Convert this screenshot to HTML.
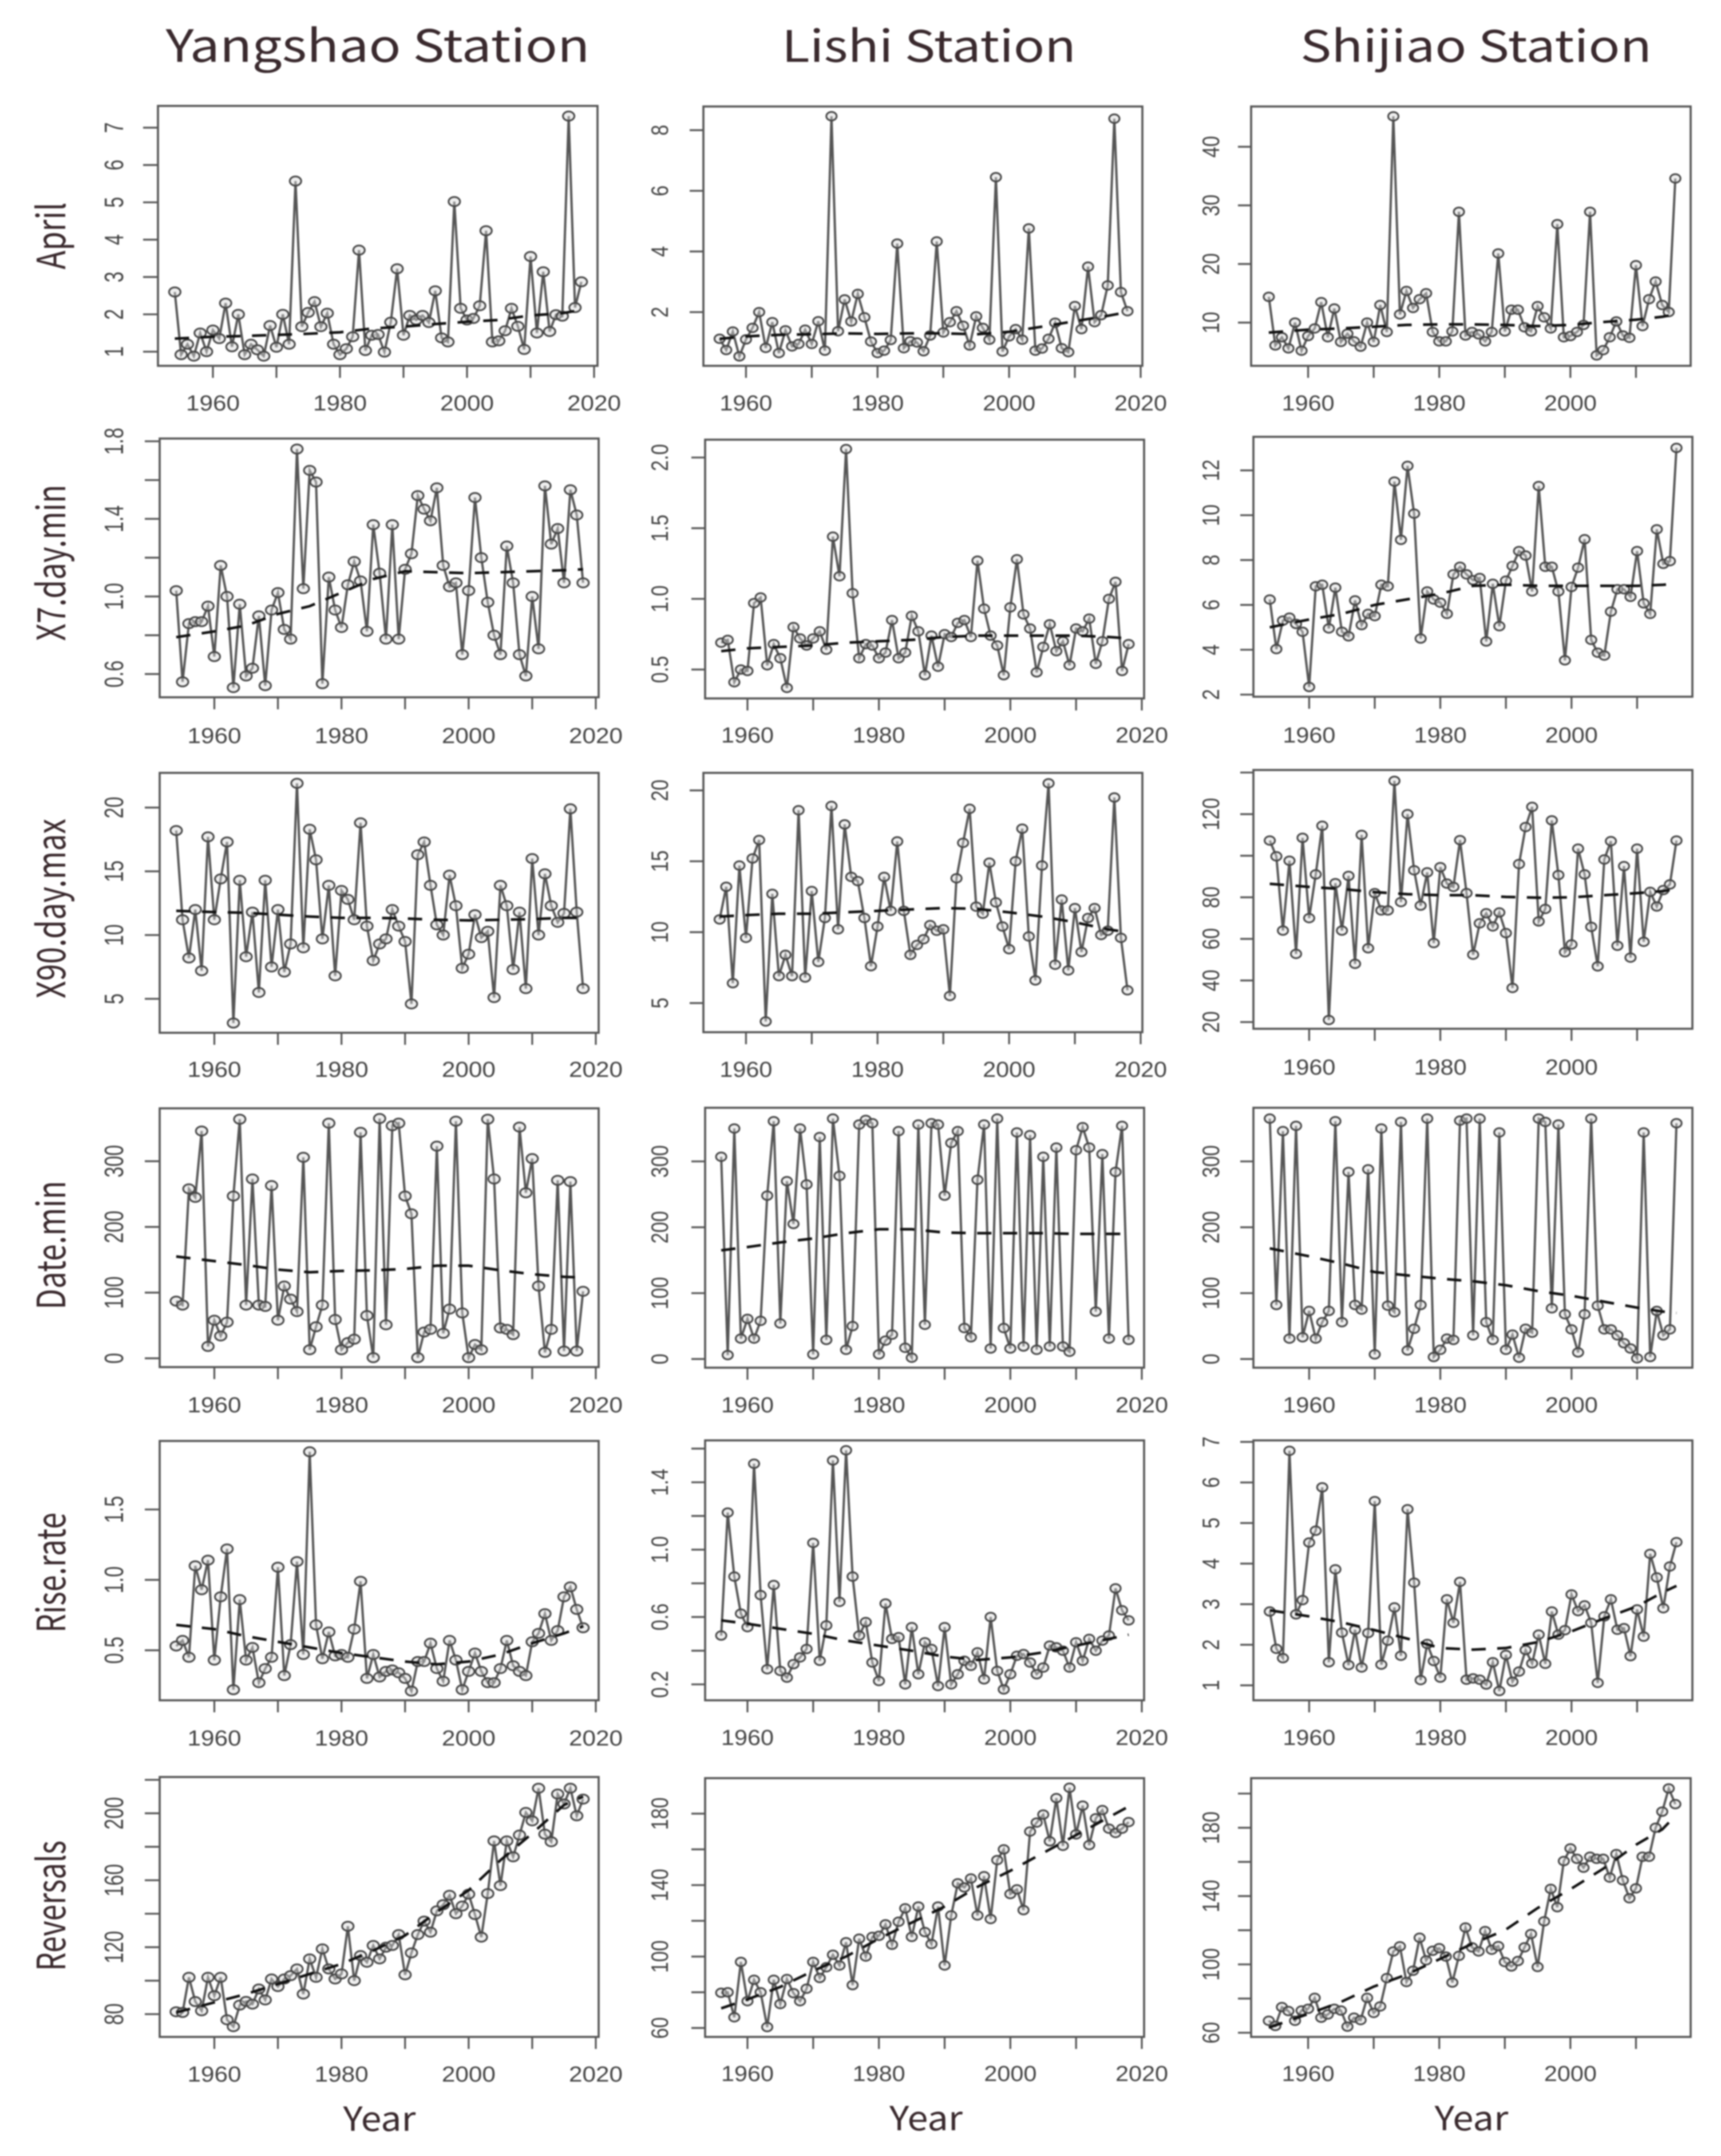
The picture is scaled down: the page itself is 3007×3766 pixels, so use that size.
<!DOCTYPE html>
<html lang="en">
<head>
<meta charset="utf-8">
<title>Hydrologic indicators by station</title>
<style>
html,body{margin:0;padding:0;background:#fff;}
svg{display:block;filter:blur(1.2px);}
text{font-family:"Liberation Sans",sans-serif;}
text.heading{font-family:"Noto Sans CJK SC","Liberation Sans",sans-serif;}
</style>
</head>
<body>
<svg id="chart" xmlns="http://www.w3.org/2000/svg" width="3007" height="3766" viewBox="0 0 3007 3766">
<rect x="0" y="0" width="3007" height="3766" fill="#fff"/>
</svg>
<script>
/* ---------- data: Yangshao (1954-2018) ---------- */
const yangshaoApril=[2.6,0.92,1.2,0.88,1.5,1.0,1.58,1.35,2.3,1.13,2.0,0.92,1.2,1.05,0.88,1.7,1.12,2.0,1.2,5.57,1.67,2.05,2.34,1.67,2.03,1.2,0.92,1.08,1.4,3.72,1.03,1.44,1.46,0.99,1.79,3.22,1.44,1.97,1.85,1.97,1.78,2.63,1.37,1.26,5.02,2.16,1.85,1.89,2.23,4.24,1.26,1.29,1.56,2.16,1.68,1.06,3.55,1.5,3.14,1.54,1.99,1.95,7.31,2.18,2.87];
const yangshaoX7=[1.03,0.56,0.86,0.87,0.87,0.95,0.69,1.16,1.0,0.53,0.96,0.59,0.63,0.9,0.54,0.93,1.02,0.83,0.78,1.76,1.04,1.65,1.59,0.55,1.1,0.93,0.84,1.06,1.18,1.08,0.82,1.37,1.12,0.78,1.37,0.78,1.14,1.22,1.52,1.45,1.39,1.56,1.16,1.05,1.07,0.7,1.03,1.51,1.2,0.97,0.8,0.7,1.26,1.07,0.7,0.59,1.0,0.73,1.57,1.27,1.35,1.07,1.55,1.42,1.07];
const yangshaoX90=[18.2,11.2,8.2,12,7.2,17.7,11.2,14.4,17.3,3.1,14.3,8.3,11.8,5.5,14.3,7.5,12,7.1,9.3,21.9,9,18.3,15.9,9.7,13.9,6.8,13.5,12.8,11.2,18.8,10.7,8,9.3,9.7,12,10.7,9.5,4.6,16.3,17.3,13.9,10.8,10,14.7,12.3,7.4,8.5,11.6,9.8,10.3,5.1,13.9,12.3,7.3,11.8,5.8,16,10,14.8,12.3,11,11.7,19.9,11.8,5.8];
const yangshaoDate=[87,81,258,245,346,18,58,34,55,247,364,81,273,81,79,263,58,110,90,71,306,13,48,81,358,59,13,24,29,344,65,1,365,51,354,358,247,220,1,40,44,323,38,75,361,69,1,21,13,364,273,46,44,36,352,252,304,110,9,44,271,11,269,11,102];
const yangshaoRise=[0.53,0.57,0.45,1.1,0.93,1.14,0.43,0.88,1.22,0.22,0.86,0.43,0.52,0.27,0.37,0.45,1.09,0.32,0.54,1.13,0.47,1.91,0.68,0.44,0.63,0.46,0.47,0.45,0.65,0.99,0.3,0.47,0.31,0.35,0.36,0.34,0.3,0.21,0.42,0.42,0.55,0.37,0.28,0.57,0.43,0.22,0.35,0.48,0.35,0.27,0.27,0.37,0.57,0.39,0.35,0.32,0.56,0.62,0.76,0.57,0.64,0.88,0.95,0.79,0.66];
const yangshaoReversals=[81.4,81,102,87.5,82,102,91,102,76.6,72.5,85.4,87.6,86,95,88.5,101,96.5,101,103,107,92,113,102,119,107,101,104,132.5,100,115,111,121,113,120,121,127.5,103.5,116.6,127.5,135.6,129,141.7,145.4,151,140,144.6,151.7,139.5,126,152,183.5,156.8,183.5,174,187,200.5,195.5,215,187.5,183,211.5,205.6,215,198.5,208.5];
/* ---------- data: Lishi (1956-2018) ---------- */
const lishiApril=[1.12,0.75,1.36,0.54,1.1,1.48,2,0.82,1.67,0.65,1.4,0.87,0.95,1.42,0.95,1.7,0.73,8.46,1.37,2.42,1.69,2.6,1.83,1.03,0.65,0.73,1.08,4.26,0.81,1.04,1,0.71,1.23,4.33,1.33,1.67,2.03,1.55,0.9,1.86,1.48,1.09,6.45,0.7,1.2,1.44,1.09,4.76,0.73,0.8,1.12,1.65,0.81,0.68,2.2,1.44,3.5,1.67,1.9,2.88,8.38,2.66,2.03];
const lishiX7=[0.69,0.71,0.41,0.5,0.49,0.97,1.01,0.53,0.68,0.58,0.37,0.8,0.72,0.67,0.72,0.77,0.64,1.44,1.16,2.06,1.04,0.58,0.68,0.67,0.58,0.62,0.85,0.58,0.62,0.88,0.77,0.46,0.74,0.52,0.75,0.73,0.83,0.85,0.73,1.27,0.93,0.74,0.67,0.46,0.94,1.28,0.89,0.79,0.48,0.66,0.82,0.63,0.7,0.53,0.79,0.77,0.86,0.54,0.7,1.0,1.12,0.49,0.68];
const lishiX90=[10.9,13.2,6.4,14.7,9.6,15.2,16.5,3.7,12.7,6.9,8.4,6.9,18.6,6.8,12.9,7.9,11,18.9,10.2,17.6,13.9,13.6,11,7.6,10.4,13.9,11.5,16.4,11.5,8.4,9.1,9.5,10.5,10.1,10.2,5.5,13.8,16.3,18.7,11.8,11.3,14.9,12.1,10.4,8.8,15,17.3,9.7,6.6,14.7,20.5,7.7,12.3,7.3,11.7,8.6,11,11.7,9.8,10.1,19.5,9.6,5.9];
const lishiDate=[307,6,350,31,61,31,58,248,361,54,270,205,350,265,7,337,29,365,278,14,50,356,363,358,7,28,37,346,17,2,356,52,358,356,248,328,346,47,33,272,356,16,365,47,16,344,19,340,14,307,19,321,19,11,317,352,321,72,311,31,284,354,29];
const lishiRise=[0.49,1.22,0.84,0.62,0.54,1.51,0.73,0.29,0.79,0.28,0.24,0.32,0.36,0.41,1.04,0.34,0.55,1.53,0.69,1.59,0.84,0.49,0.57,0.33,0.22,0.68,0.47,0.48,0.2,0.54,0.26,0.45,0.41,0.19,0.54,0.2,0.26,0.34,0.31,0.39,0.23,0.6,0.28,0.17,0.26,0.37,0.38,0.33,0.26,0.3,0.43,0.42,0.4,0.3,0.45,0.34,0.47,0.4,0.46,0.49,0.77,0.64,0.58];
const lishiReversals=[79.7,80,66,97,75,87,80,60.5,87,73.4,87.4,79.5,75,82,97,88,94,101,95,108,84,110,100,111,111.6,118,106.6,119.5,127,111,128,113.7,107,128,95,123,141,138.7,143.7,123,145,121,154,160,135,137.6,126,170,175,179.5,164.5,188.7,162,194.5,168.4,184.5,162.4,177.4,182,171.6,169.2,171.6,175.3];
/* ---------- data: Shijiao (1954-2016) ---------- */
const shijiaoApril=[14.4,6.1,7.5,5.6,10,5.2,7.7,9,13.5,7.5,12.4,6.7,8.1,6.8,5.9,10,6.7,13,8.4,45.2,11.4,15.4,12.5,14,15,8.4,6.8,6.8,8.5,28.9,7.8,8.4,8,6.8,8.4,21.8,8.5,12.2,12.2,9.2,8.5,12.8,10.9,9,26.8,7.5,7.7,8.4,9.6,28.9,4.4,5.3,7.5,10.2,7.8,7.4,19.8,9.4,14,17,13,11.8,34.6];
const shijiaoX7=[6.24,4.03,5.3,5.43,5.15,4.8,2.34,6.83,6.9,4.95,6.77,4.8,4.6,6.2,5.1,5.6,5.5,6.9,6.83,11.5,8.9,12.2,10.07,4.5,6.6,6.24,6.1,5.6,7.36,7.7,7.36,7.1,7.2,4.37,6.94,5.05,7.08,7.74,8.4,8.2,6.6,11.3,7.7,7.7,6.6,3.53,6.8,7.66,8.93,4.44,3.87,3.74,5.7,6.7,6.7,6.36,8.4,6.07,5.6,9.37,7.83,7.95,13.0];
const shijiaoX90=[107.3,99.7,64,97.6,52.8,108.6,70,91,114.4,21,86.8,64,90.3,48,110,55.5,82,73.7,73.7,136,77.7,120,93,76,92,58,94.5,86.6,85,107.5,82,52.4,67.5,72.3,66,72.7,62.8,36.4,96,113.8,123.5,68.4,74.4,117,90.7,53.6,57.3,103.4,91,65.8,46.8,98.2,107,56.7,95,51,103.4,58.6,82.6,75.6,83.5,86.2,107.3];
const shijiaoDate=[365,82,346,31,354,33,73,31,56,73,361,56,284,82,75,288,7,350,81,71,360,13,46,82,365,3,14,31,29,362,365,36,365,56,29,344,14,37,2,46,40,365,360,77,356,68,45,10,68,365,81,45,45,36,24,16,1,344,3,73,36,45,358];
const shijiaoRise=[2.82,1.9,1.67,6.78,2.75,3.1,4.52,4.81,5.88,1.57,3.86,2.3,1.5,2.37,1.44,2.29,5.54,1.51,2.1,2.92,1.73,5.34,3.53,1.13,2.02,1.6,1.19,3.12,2.54,3.55,1.14,1.17,1.14,1.02,1.57,0.86,1.75,1.09,1.34,1.87,1.54,2.25,1.53,2.82,2.25,2.36,3.24,2.83,2.97,2.54,1.06,2.7,3.12,2.37,2.41,1.72,2.87,2.2,4.24,3.66,2.9,3.93,4.53];
const shijiaoReversals=[67,64,75,72.7,67,73,74,80.4,68.8,70.7,74,73,63.6,68.8,67.4,80.4,71.6,75.4,92,107.6,110.6,89.7,96.3,115.6,102.4,108,109.5,104.6,89.4,105,121.6,110,107.6,119.5,108.6,110.7,101.4,98.8,102,110,117.8,98.5,125.2,144.2,133.5,160.5,167.9,161.8,156.6,163,161.8,161.8,150.8,164.6,149.2,138.7,144.5,163,163,180,189.4,203,193.8];
/* ---------- trend (smoothed dashed line) ---------- */
const trendYearsA=[1954,1960,1965,1970,1975,1980,1985,1990,1995,2000,2005,2010,2015,2018];
const trendYearsB=[1956,1960,1965,1970,1975,1980,1985,1990,1995,2000,2005,2010,2015,2018];
const trendYearsC=[1954,1960,1965,1970,1975,1980,1985,1990,1995,2000,2005,2010,2014,2016];
const yangshaoAprilTrend=[1.35,1.4,1.42,1.45,1.48,1.52,1.62,1.67,1.74,1.8,1.85,1.97,2.03,2.12];
const yangshaoX7Trend=[0.79,0.82,0.85,0.91,0.95,1.02,1.09,1.13,1.125,1.12,1.125,1.13,1.135,1.14];
const yangshaoX90Trend=[11.9,11.8,11.75,11.6,11.45,11.35,11.35,11.3,11.2,11.15,11.2,11.25,11.35,11.35];
const yangshaoDateTrend=[155,148,142,135,131,133,134,136,141,141,134,128,124,123];
const yangshaoRiseTrend=[0.68,0.65,0.6,0.56,0.52,0.48,0.45,0.42,0.4,0.42,0.47,0.55,0.62,0.67];
const yangshaoReversalsTrend=[81,87,92,98,104,110,118,127,141,154,172,188,205,210];
const lishiAprilTrend=[1.12,1.2,1.25,1.27,1.3,1.28,1.3,1.3,1.27,1.35,1.52,1.7,1.88,2.0];
const lishiX7Trend=[0.63,0.65,0.66,0.67,0.69,0.7,0.71,0.73,0.74,0.74,0.74,0.74,0.73,0.72];
const lishiX90Trend=[11.1,11.2,11.3,11.3,11.4,11.5,11.6,11.7,11.65,11.4,11.1,10.7,10.2,10.0];
const lishiDateTrend=[165,170,177,183,191,197,197,192,191,191,191,190,190,190];
const lishiRiseTrend=[0.58,0.56,0.53,0.5,0.46,0.43,0.4,0.365,0.345,0.36,0.39,0.43,0.47,0.495];
const lishiReversalsTrend=[71,76,83,92,100,110,119,128,139,148,158,168,178,184];
const shijiaoAprilTrend=[8.3,8.8,9,9.3,9.6,9.7,9.7,9.6,9.4,9.6,10.1,10.5,11,11.4];
const shijiaoX7Trend=[5.0,5.35,5.6,6.0,6.25,6.5,6.85,6.9,6.85,6.85,6.85,6.85,6.9,6.95];
const shijiaoX90Trend=[86.5,85,84,82.5,81.5,81,81,80.2,79.8,80,81,82,83,84];
const shijiaoDateTrend=[168,156,145,132,127,122,118,112,103,96,87,78,72,70];
const shijiaoRiseTrend=[2.85,2.7,2.55,2.36,2.15,1.92,1.88,1.92,2.07,2.33,2.65,2.95,3.3,3.45];
const shijiaoReversalsTrend=[63,71,78,87,94,103,112,120,133,144,156,170,179,187];
/* ---------- tick values and labels ---------- */
const xTicksAB=[1960,1970,1980,1990,2000,2010,2020];
const xLabelsAB=[1960,1980,2000,2020];
const xTicksC=[1960,1970,1980,1990,2000,2010];
const xLabelsC=[1960,1980,2000];
const dateTicks=[0,100,200,300];
const dateLabels=["0","100","200","300"];
const yAprilTicks=[1,2,3,4,5,6,7];
const yAprilLabels=["1","2","3","4","5","6","7"];
const yX7Ticks=[0.6,0.8,1.0,1.2,1.4,1.6,1.8];
const yX7Labels=["0.6","1.0","1.4","1.8"];
const yX90Ticks=[5,10,15,20];
const yX90Labels=["5","10","15","20"];
const yRiseTicks=[0.5,1.0,1.5];
const yRiseLabels=["0.5","1.0","1.5"];
const yRevTicks=[80,100,120,140,160,180,200,220];
const yRevLabels=["80","120","160","200"];
const lAprilTicks=[2,4,6,8];
const lAprilLabels=["2","4","6","8"];
const lX7Ticks=[0.5,1.0,1.5,2.0];
const lX7Labels=["0.5","1.0","1.5","2.0"];
const lRiseTicks=[0.2,0.4,0.6,0.8,1.0,1.2,1.4,1.6];
const lRiseLabels=["0.2","0.6","1.0","1.4"];
const lRevTicks=[60,80,100,120,140,160,180];
const lRevLabels=["60","100","140","180"];
const sAprilTicks=[10,20,30,40];
const sAprilLabels=["10","20","30","40"];
const sX7Ticks=[2,4,6,8,10,12];
const sX7Labels=["2","4","6","8","10","12"];
const sX90Ticks=[20,40,60,80,100,120,140];
const sX90Labels=["20","40","60","80","120"];
const sRiseTicks=[1,2,3,4,5,6,7];
const sRiseLabels=["1","2","3","4","5","6","7"];
const sRevTicks=[60,80,100,120,140,160,180,200];
const sRevLabels=["60","100","140","180"];

/* ---------- layout ---------- */
const NS="http://www.w3.org/2000/svg";
const svg=document.getElementById("chart");
const INK="#565656", TXT="#444", TITLE="#3a2a2e";

function make(tag,parent,name,interact){
  const el=document.createElementNS(NS,tag);
  
  
  parent.appendChild(el);
  return el;
}
function label(parent,name,str,x,y,size,len,rot,color,cls){
  const t=make("text",parent,name,false);
  t.textContent=str;
  t.setAttribute("text-anchor","middle");
  t.setAttribute("font-size",size);
  t.setAttribute("fill",color);
  if(cls){t.setAttribute("class",cls);}
  if(len){t.setAttribute("textLength",len);t.setAttribute("lengthAdjust","spacingAndGlyphs");}
  t.setAttribute("transform","translate("+x+","+y+")"+(rot?" rotate(-90)":""));
  return t;
}
function alongLength(s){
  let w=0;
  for(const c of s){w+=(c==="."?9.5:19);}
  return w;
}
const columns=[
 {id:"yangshao",xTicks:xTicksAB,xLabels:xLabelsAB,tickLabelX:215,tickLen:26,labelSize:46,rx:10,ry:8,xLabelW:94},
 {id:"lishi",xTicks:xTicksAB,xLabels:xLabelsAB,tickLabelX:1167,tickLen:24,labelSize:42,rx:9,ry:7.5,xLabelW:92},
 {id:"shijiao",xTicks:xTicksC,xLabels:xLabelsC,tickLabelX:2130,tickLen:23,labelSize:42,rx:9,ry:7.5,xLabelW:92}
];
const panels=[
 {c:0,m:"april",start:1954,v:yangshaoApril,ty:trendYearsA,tv:yangshaoAprilTrend,box:[276,185,1044,639],x60:[372,1038],yr:[1,614.3,7,223],yt:yAprilTicks,yl:yAprilLabels,xly:703},
 {c:0,m:"x7-day-min",start:1954,v:yangshaoX7,ty:trendYearsA,tv:yangshaoX7Trend,box:[279,766,1046,1218],x60:[374.5,1041],yr:[0.6,1177.4,1.8,770.8],yt:yX7Ticks,yl:yX7Labels,xly:1284},
 {c:0,m:"x90-day-max",start:1954,v:yangshaoX90,ty:trendYearsA,tv:yangshaoX90Trend,box:[279,1350,1046,1804],x60:[374.5,1041],yr:[5,1744.7,20,1410.6],yt:yX90Ticks,yl:yX90Labels,xly:1867},
 {c:0,m:"date-min",start:1954,v:yangshaoDate,ty:trendYearsA,tv:yangshaoDateTrend,box:[279,1936,1046,2388],x60:[374.5,1041],yr:[0,2372.6,300,2028.4],yt:dateTicks,yl:dateLabels,xly:2453},
 {c:0,m:"rise-rate",start:1954,v:yangshaoRise,ty:trendYearsA,tv:yangshaoRiseTrend,box:[279,2517,1046,2970],x60:[374.5,1041],yr:[0.5,2882.6,1.5,2636.7],yt:yRiseTicks,yl:yRiseLabels,xly:3035},
 {c:0,m:"reversals",start:1954,v:yangshaoReversals,ty:trendYearsA,tv:yangshaoReversalsTrend,box:[279,3104,1046,3558],x60:[374.5,1041],yr:[80,3518.2,200,3167.4],yt:yRevTicks,yl:yRevLabels,xly:3622},

 {c:1,m:"april",start:1956,v:lishiApril,ty:trendYearsB,tv:lishiAprilTrend,box:[1229,186,1996,639],x60:[1303.4,1993],yr:[2,545.2,8,227.4],yt:lAprilTicks,yl:lAprilLabels,xly:703},
 {c:1,m:"x7-day-min",start:1956,v:lishiX7,ty:trendYearsB,tv:lishiX7Trend,box:[1232,768,1999,1220],x60:[1306,1995],yr:[0.5,1169.5,2,799.2],yt:lX7Ticks,yl:lX7Labels,xly:1283},
 {c:1,m:"x90-day-max",start:1956,v:lishiX90,ty:trendYearsB,tv:lishiX90Trend,box:[1229,1350,1996,1803],x60:[1303.4,1993],yr:[5,1752.1,20,1380.6],yt:yX90Ticks,yl:yX90Labels,xly:1867},
 {c:1,m:"date-min",start:1956,v:lishiDate,ty:trendYearsB,tv:lishiDateTrend,box:[1232,1935,1999,2389],x60:[1306,1995],yr:[0,2373.9,300,2028.7],yt:dateTicks,yl:dateLabels,xly:2453},
 {c:1,m:"rise-rate",start:1956,v:lishiRise,ty:trendYearsB,tv:lishiRiseTrend,box:[1232,2516,1999,2970],x60:[1306,1995],yr:[0.2,2942.2,1.4,2589.2],yt:lRiseTicks,yl:lRiseLabels,xly:3034},
 {c:1,m:"reversals",start:1956,v:lishiReversals,ty:trendYearsB,tv:lishiReversalsTrend,box:[1232,3106,1999,3558],x60:[1306,1995],yr:[60,3542.4,180,3168],yt:lRevTicks,yl:lRevLabels,xly:3621},

 {c:2,m:"april",start:1954,v:shijiaoApril,ty:trendYearsC,tv:shijiaoAprilTrend,box:[2186,186,2954,639],x60:[2285.6,2973],yr:[10,563.5,40,256.4],yt:sAprilTicks,yl:sAprilLabels,xly:703},
 {c:2,m:"x7-day-min",start:1954,v:shijiaoX7,ty:trendYearsC,tv:shijiaoX7Trend,box:[2190,763,2957,1217],x60:[2287.4,2975],yr:[2,1213.3,12,821.6],yt:sX7Ticks,yl:sX7Labels,xly:1283},
 {c:2,m:"x90-day-max",start:1954,v:shijiaoX90,ty:trendYearsC,tv:shijiaoX90Trend,box:[2190,1345,2957,1797],x60:[2287.4,2975],yr:[20,1785.3,120,1422.1],yt:sX90Ticks,yl:sX90Labels,xly:1863},
 {c:2,m:"date-min",start:1954,v:shijiaoDate,ty:trendYearsC,tv:shijiaoDateTrend,box:[2190,1935,2957,2389],x60:[2287.4,2975],yr:[0,2373.9,300,2028.7],yt:dateTicks,yl:dateLabels,xly:2453},
 {c:2,m:"rise-rate",start:1954,v:shijiaoRise,ty:trendYearsC,tv:shijiaoRiseTrend,box:[2190,2516,2957,2970],x60:[2287.4,2975],yr:[1,2943.9,7,2518.6],yt:sRiseTicks,yl:sRiseLabels,xly:3034},
 {c:2,m:"reversals",start:1954,v:shijiaoReversals,ty:trendYearsC,tv:shijiaoReversalsTrend,box:[2186,3106,2954,3558],x60:[2285.6,2973],yr:[60,3550.7,180,3192.6],yt:sRevTicks,yl:sRevLabels,xly:3621}
];

function drawPanel(p){
  const col=columns[p.c];
  const prefix=col.id+"-"+p.m;
  const g=make("g",svg,prefix+"-panel",false);
  const xScale=function(year){return p.x60[0]+(year-1960)*(p.x60[1]-p.x60[0])/60;};
  const yScale=function(val){return p.yr[1]+(val-p.yr[0])*(p.yr[3]-p.yr[1])/(p.yr[2]-p.yr[0]);};
  const b=p.box;

  const frame=make("rect",g,prefix+"-plot-frame",false);
  frame.setAttribute("x",b[0]);
  frame.setAttribute("y",b[1]);
  frame.setAttribute("width",b[2]-b[0]);
  frame.setAttribute("height",b[3]-b[1]);
  frame.setAttribute("fill","none");
  frame.setAttribute("stroke","#555");
  frame.setAttribute("stroke-width","3.6");

  col.xTicks.forEach(function(yr){
    const t=make("line",g,prefix+"-x-tick-"+yr,false);
    t.setAttribute("x1",xScale(yr));
    t.setAttribute("x2",xScale(yr));
    t.setAttribute("y1",b[3]);
    t.setAttribute("y2",b[3]+21);
    t.setAttribute("stroke","#555");
    t.setAttribute("stroke-width","3.2");
  });
  col.xLabels.forEach(function(yr){
    label(g,prefix+"-x-label-"+yr,String(yr),xScale(yr),p.xly+14,38,col.xLabelW,false,TXT);
  });
  p.yt.forEach(function(val){
    const t=make("line",g,prefix+"-y-tick-"+val,false);
    t.setAttribute("x1",b[0]-col.tickLen);
    t.setAttribute("x2",b[0]);
    t.setAttribute("y1",yScale(val));
    t.setAttribute("y2",yScale(val));
    t.setAttribute("stroke","#555");
    t.setAttribute("stroke-width","3.2");
  });
  p.yl.forEach(function(s){
    label(g,prefix+"-y-label-"+s,s,col.tickLabelX,yScale(parseFloat(s)),col.labelSize,alongLength(s),true,TXT);
  });

  const pts=p.v.map(function(val,i){return xScale(p.start+i).toFixed(1)+","+yScale(val).toFixed(1);}).join(" ");
  const line=make("polyline",g,prefix+"-series-line",false);
  line.setAttribute("points",pts);
  line.setAttribute("fill","none");
  line.setAttribute("stroke",INK);
  line.setAttribute("stroke-width","4");
  line.setAttribute("stroke-linejoin","miter");

  p.v.forEach(function(val,i){
    const yr=p.start+i;
    const m=make("ellipse",g,prefix+"-point-"+yr,false);
    m.setAttribute("cx",xScale(yr).toFixed(1));
    m.setAttribute("cy",yScale(val).toFixed(1));
    m.setAttribute("rx",col.rx);
    m.setAttribute("ry",col.ry);
    m.setAttribute("fill","#d9d9d9");
    m.setAttribute("fill-opacity","0.45");
    m.setAttribute("stroke","#444");
    m.setAttribute("stroke-width","3");
  });

  const tp=p.tv.map(function(val,i){return xScale(p.ty[i]).toFixed(1)+","+yScale(val).toFixed(1);}).join(" ");
  const trend=make("polyline",g,prefix+"-trend-line",false);
  trend.setAttribute("points",tp);
  trend.setAttribute("fill","none");
  trend.setAttribute("stroke","#111");
  trend.setAttribute("stroke-width","4.6");
  trend.setAttribute("stroke-dasharray","25 20");
}
panels.forEach(drawPanel);

/* ---------- titles ---------- */
const titleGroup=make("g",svg,"chart-titles",false);
label(titleGroup,"yangshao-station-title","Yangshao Station",660,108,78,741,false,TITLE,"heading");
label(titleGroup,"lishi-station-title","Lishi Station",1623,108,76,514,false,TITLE,"heading");
label(titleGroup,"shijiao-station-title","Shijiao Station",2579,108,76,614,false,TITLE,"heading");
label(titleGroup,"april-axis-title","April",114,412,68,117,true,TITLE,"heading");
label(titleGroup,"x7-day-min-axis-title","X7.day.min",114,983,68,273,true,TITLE,"heading");
label(titleGroup,"x90-day-max-axis-title","X90.day.max",114,1587,68,314,true,TITLE,"heading");
label(titleGroup,"date-min-axis-title","Date.min",114,2175,68,225,true,TITLE,"heading");
label(titleGroup,"rise-rate-axis-title","Rise.rate",114,2747,68,210,true,TITLE,"heading");
label(titleGroup,"reversals-axis-title","Reversals",114,3329,68,228,true,TITLE,"heading");
label(titleGroup,"yangshao-year-axis-title","Year",663,3722,58,127,false,TITLE,"heading");
label(titleGroup,"lishi-year-axis-title","Year",1618,3721,58,128,false,TITLE,"heading");
label(titleGroup,"shijiao-year-axis-title","Year",2571,3721,58,129,false,TITLE,"heading");
</script>
</body>
</html>
